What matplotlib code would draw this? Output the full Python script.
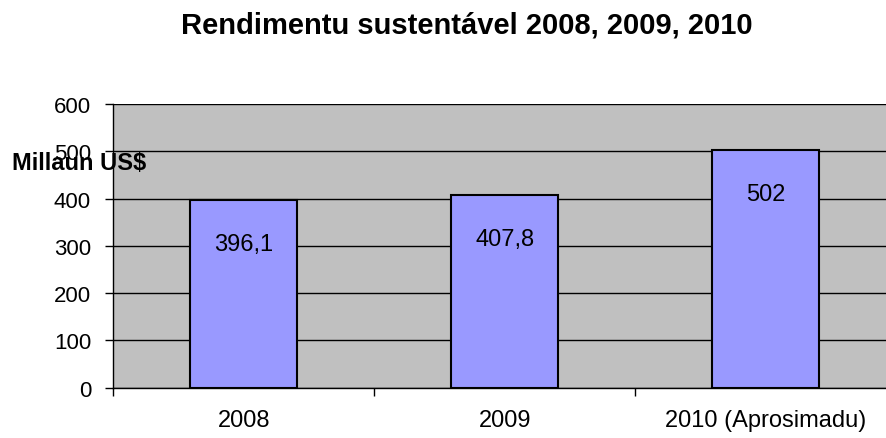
import matplotlib
matplotlib.use("Agg")
import matplotlib.pyplot as plt

plt.rcParams['font.family'] = ['Liberation Sans', 'DejaVu Sans']

categories = ["2008", "2009", "2010 (Aprosimadu)"]
values = [396.1, 407.8, 502]
value_labels = ["396,1", "407,8", "502"]
yticks = [0, 100, 200, 300, 400, 500, 600]

title = "Rendimentu sustentável 2008, 2009, 2010"
ylabel = "Millaun US$"

fig = plt.figure(figsize=(8.87, 4.39), dpi=100)
W, H = 887, 439
left, right, top, bottom = 113.3, 896.3, 105, 388.7
ax = fig.add_axes([left / W, 1 - bottom / H, (right - left) / W, (bottom - top) / H])
ax.set_facecolor('#C0C0C0')

x = list(range(len(categories)))
ax.bar(x, values, width=0.41, color='#9999FF', edgecolor='black', linewidth=1.5, zorder=3)

ax.set_xlim(-0.5, len(categories) - 0.5)
ax.set_ylim(0, 600)
ax.set_yticks(yticks)
ax.set_yticklabels([str(v) for v in yticks], fontsize=16)
ax.yaxis.grid(True, color='black', linewidth=1, zorder=0)
ax.set_axisbelow(True)

ax.set_xticks(x)
ax.set_xticklabels(categories, fontsize=17)
ax.tick_params(axis='x', length=0, pad=15.5)
ax.set_xticks([i - 0.5 for i in range(len(categories) + 1)], minor=True)
ax.tick_params(axis='x', which='minor', length=6, width=1, color='black', direction='out')
ax.tick_params(axis='y', length=6, width=1, direction='out', pad=10)

for s in ['top', 'right']:
    ax.spines[s].set_visible(False)
for s in ['left', 'bottom']:
    ax.spines[s].set_color('black')
    ax.spines[s].set_linewidth(1)

for xi, v, lab in zip(x, values, value_labels):
    ax.annotate(lab, (xi, v), xytext=(0, -36), textcoords='offset points',
                ha='center', va='baseline', fontsize=17, zorder=4)

fig.text(467 / W, 1 - 33 / H, title, ha='center', va='baseline', fontsize=21, fontweight='bold')
fig.text(12 / W, 1 - 170 / H, ylabel, ha='left', va='baseline', fontsize=17, fontweight='bold')

fig.savefig('out.png', dpi=100)
